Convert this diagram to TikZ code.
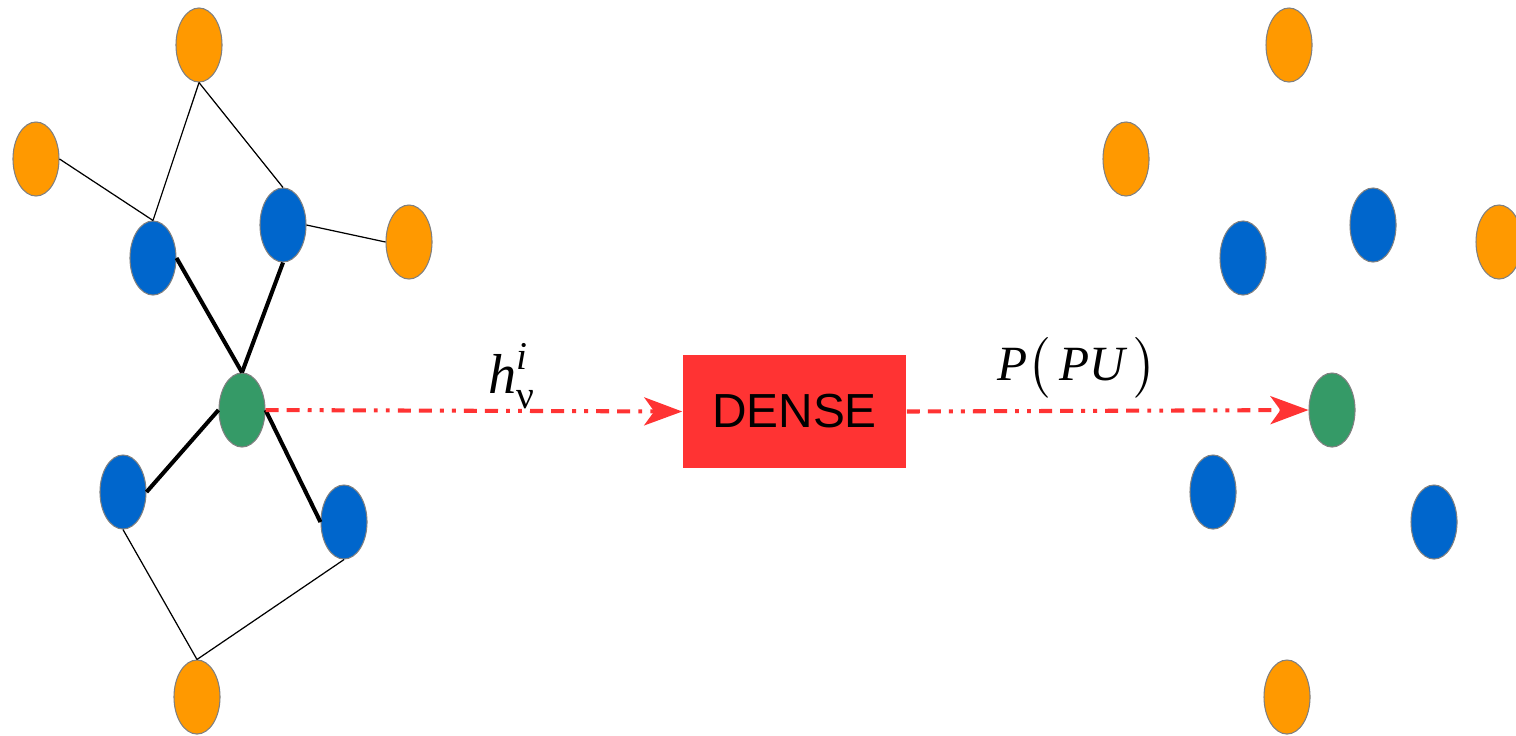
\documentclass[tikz,border=0pt]{standalone}
\usepackage{amsmath}
\usepackage{fontspec}
\newfontfamily\densefont{Liberation Sans}
\newfontfamily\labelfont{Liberation Serif}
\usepackage{tikz}
\usetikzlibrary{arrows.meta}
\usetikzlibrary{shapes.geometric}

\definecolor{nodeorange}{HTML}{FF9900}
\definecolor{nodeblue}{HTML}{0066CC}
\definecolor{nodegreen}{HTML}{359A67}
\definecolor{densered}{HTML}{FF3333}

\newcommand{\lit}[1]{\text{\labelfont\itshape #1}}

\tikzset{
  vertex/.style={ellipse, draw=gray, line width=0.3pt, inner sep=0pt,
    minimum width=0.46cm, minimum height=0.74cm},
  leaf/.style={vertex, fill=nodeorange},
  hop/.style={vertex, fill=nodeblue},
  target/.style={vertex, fill=nodegreen},
  thinedge/.style={line width=0.35pt},
  thickedge/.style={line width=1.15pt},
  flow/.style={densered, line width=1.15pt,
    dash pattern=on 3.7pt off 2.3pt on 3.7pt off 2.3pt on 1.1pt off 2.3pt on 1.1pt off 2.3pt,
    -{Stealth[length=0.38cm, width=0.28cm, inset=0.1cm]}}
}

\begin{document}
\begin{tikzpicture}[x=0.01cm, y=-0.01cm]
\useasboundingbox (0,0) rectangle (1516,735);

% Input graph
\node[leaf] (a1) at (199,45) {};
\node[leaf] (a2) at (36,159) {};
\node[hop] (b1) at (153,258) {};
\node[hop] (b2) at (283,225) {};
\node[leaf] (a3) at (409,242) {};
\node[target] (v) at (242,410) {};
\node[hop] (b3) at (123,492) {};
\node[hop] (b4) at (344,522) {};
\node[leaf] (a4) at (197,697) {};

% two-hop edges
\draw[thinedge] (a1.south) -- (b1.north);
\draw[thinedge] (a1.south) -- (b2.north);
\draw[thinedge] (a2.east) -- (b1.north);
\draw[thinedge] (b2.east) -- (a3.west);
\draw[thinedge] (b3.south) -- (a4.north);
\draw[thinedge] (b4.south) -- (a4.north);

% one-hop edges
\draw[thickedge] (b1.east) -- (v.north);
\draw[thickedge] (b2.south) -- (v.north);
\draw[thickedge] (b3.east) -- (v.west);
\draw[thickedge] (v.east) -- (b4.west);

% Dense layer
\node[fill=densered, minimum width=2.23cm, minimum height=1.13cm, inner sep=0pt,
  font=\densefont\fontsize{13.6}{15}\selectfont] (dense) at (794.5,411.5) {DENSE};

% Output nodes
\node[leaf] (c1) at (1289,45) {};
\node[leaf] (c2) at (1126,159) {};
\node[hop] (d1) at (1243,258) {};
\node[hop] (d2) at (1373,225) {};
\node[leaf] (c3) at (1499,242) {};
\node[target] (w) at (1332,410) {};
\node[hop] (d3) at (1213,492) {};
\node[hop] (d4) at (1434,522) {};
\node[leaf] (c4) at (1287,697) {};

% Arrows
\draw[flow] (v.east) -- (dense.west);
\draw[flow] (dense.east) -- (w.west);
\node[font=\fontsize{16}{18}\selectfont] (hlabel) at (512,376) {$\lit{h}^{\lit{i}}_{\text{\labelfont ν}}$};
\node[font=\fontsize{14}{16}\selectfont] (plabel) at (1077,368) {$\lit{P}\bigl(\,\lit{PU}\,\bigr)$};

\end{tikzpicture}
\end{document}
